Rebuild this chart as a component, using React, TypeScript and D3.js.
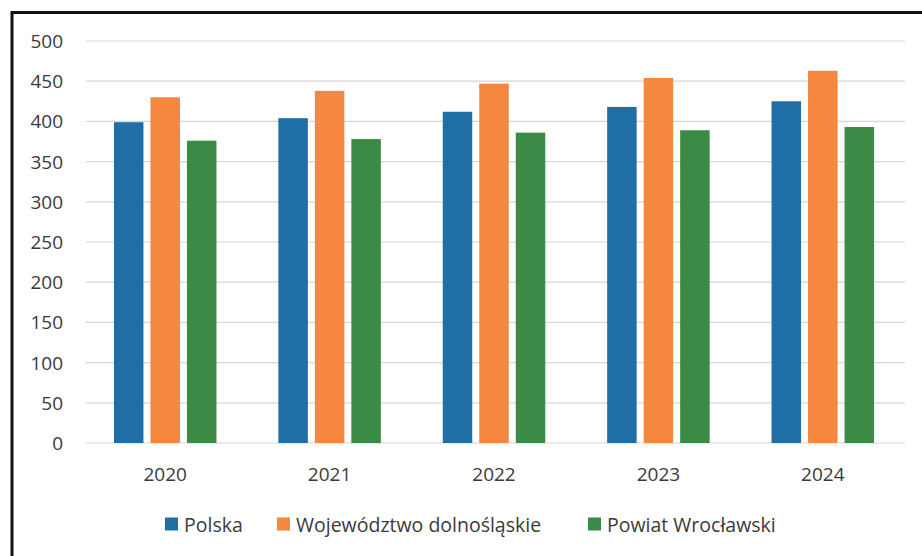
import * as d3 from "d3";

const years = ["2020", "2021", "2022", "2023", "2024"];
const seriesNames = ["Polska", "Województwo dolnośląskie", "Powiat Wrocławski"];
const polska = [399, 404, 412, 418, 425];
const dolnoslaskie = [430, 438, 447, 454, 463];
const wroclawski = [376, 378, 386, 389, 393];
const yTicks = [0, 50, 100, 150, 200, 250, 300, 350, 400, 450, 500];

const colors = ["#1f6ea6", "#f5873f", "#3b8a45"];
const seriesValues = [polska, dolnoslaskie, wroclawski];

const width = 922;
const height = 556;
const font = "'Open Sans', 'Noto Sans', sans-serif";

export default function App() {
  const x = d3.scaleBand<string>().domain(years).range([83, 905]);
  const y = d3.scaleLinear().domain([0, 500]).range([443, 41]);
  const barW = 29.5;
  const step = 36.5;

  // legend swatch positions
  const legendX = [165, 277, 588];

  return (
    <>
      <style>{"body{margin:0}"}</style>
      <svg width={width} height={height} style={{ display: "block", background: "#fff" }}>
        <g>
          {yTicks.map((t) => (
            <g key={t}>
              <line x1={86} x2={905} y1={y(t)} y2={y(t)} stroke="#d6d6d6" strokeWidth={1.2} />
              <text
                x={63}
                y={y(t)}
                textAnchor="end"
                dominantBaseline="central"
                fontFamily={font}
                fontSize={19}
                fill="#3a3a3a"
              >
                {t}
              </text>
            </g>
          ))}
        </g>
        {years.map((yr, i) => {
          const cx = (x(yr) ?? 0) + x.bandwidth() / 2;
          return (
            <g key={yr}>
              {seriesValues.map((vals, s) => (
                <rect
                  key={s}
                  x={cx + (s - 1) * step - barW / 2}
                  y={y(vals[i])}
                  width={barW}
                  height={y(0) - y(vals[i])}
                  fill={colors[s]}
                />
              ))}
              <text
                x={cx}
                y={474}
                textAnchor="middle"
                dominantBaseline="central"
                fontFamily={font}
                fontSize={19}
                fill="#3a3a3a"
              >
                {yr}
              </text>
            </g>
          );
        })}
        {seriesNames.map((name, s) => (
          <g key={name} transform={`translate(${legendX[s]}, 524)`}>
            <rect x={0} y={-6.5} width={13} height={13} fill={colors[s]} />
            <text x={19} y={0} dominantBaseline="central" fontFamily={font} fontSize={19.5} fill="#3a3a3a">
              {name}
            </text>
          </g>
        ))}
        <path d={`M12,${height} L12,12.5 L${width},12.5`} fill="none" stroke="#111" strokeWidth={3} />
      </svg>
    </>
  );
}
